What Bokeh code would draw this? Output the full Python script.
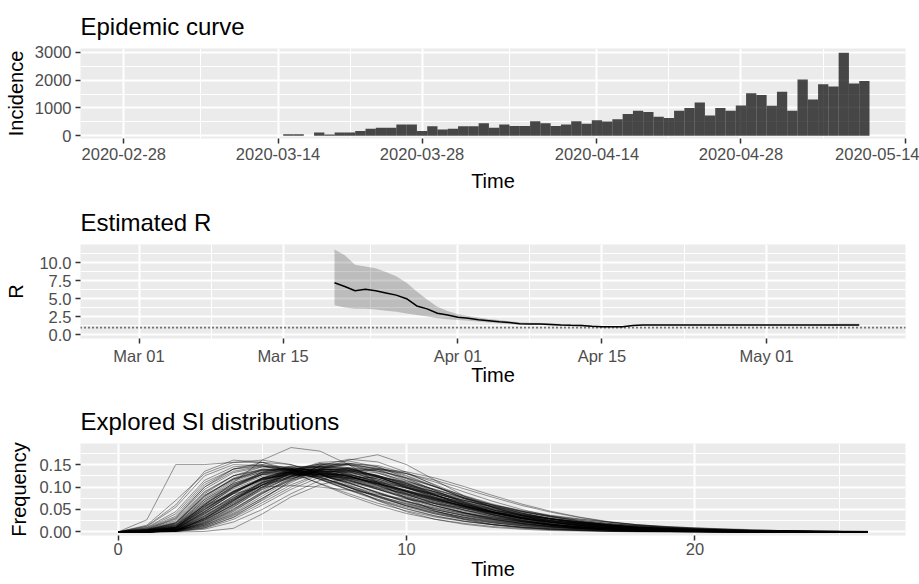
import datetime as dt
from bokeh.plotting import figure
from bokeh.layouts import column
from bokeh.models import (Range1d, FixedTicker, DatetimeTickFormatter,
                          NumeralTickFormatter, Span, ColumnDataSource)
from bokeh.embed import file_html
from bokeh.resources import INLINE

# ---------------- data ----------------
inc_start = dt.datetime(2020, 3, 15)
incidence = [50, 50, 0, 115, 40, 115, 115, 170, 255, 290, 290, 400, 400, 170, 340,
             220, 255, 340, 340, 445, 290, 400, 350, 350, 520, 445, 350, 400, 520,
             430, 555, 510, 590, 780, 900, 850, 685, 635, 900, 995, 1200, 730, 995, 900,
             1090, 1530, 1470, 1080, 1580, 900, 2020, 1300, 1850, 1770, 2990, 1880, 1970]
inc_dates = [inc_start + dt.timedelta(days=i) for i in range(len(incidence))]

inc_tick_dates = [dt.datetime(2020, 2, 28), dt.datetime(2020, 3, 14), dt.datetime(2020, 3, 28),
                  dt.datetime(2020, 4, 14), dt.datetime(2020, 4, 28), dt.datetime(2020, 5, 14)]
inc_minor_dates = [dt.datetime(2020, 3, 6, 12), dt.datetime(2020, 3, 21), dt.datetime(2020, 4, 5, 12),
                   dt.datetime(2020, 4, 21), dt.datetime(2020, 5, 6)]

r_start = dt.datetime(2020, 3, 20)
r_mean = [7.2, 6.7, 6.1, 6.3, 6.1, 5.8, 5.5, 5.0, 4.0, 3.6, 3.0, 2.75,
          2.45, 2.3, 2.1, 1.95, 1.8, 1.7, 1.55, 1.5, 1.5, 1.45, 1.35, 1.32, 1.3, 1.2,
          1.14, 1.14, 1.14, 1.3,
          1.37, 1.37, 1.37, 1.37, 1.37, 1.37, 1.37, 1.37, 1.37, 1.37, 1.37,
          1.37, 1.37, 1.37, 1.37, 1.37, 1.37, 1.37, 1.37, 1.38, 1.38, 1.38]
r_low = [4.1, 3.8, 3.6, 3.6, 3.5, 3.35, 3.2, 2.95, 2.75, 2.55, 2.3, 2.15,
         2.05, 1.95, 1.85, 1.72, 1.6, 1.52, 1.4, 1.36, 1.35, 1.3, 1.22, 1.2, 1.18, 1.1,
         1.05, 1.06, 1.06, 1.22,
         1.3, 1.3, 1.3, 1.3, 1.3, 1.3, 1.3, 1.3, 1.3, 1.3, 1.3,
         1.3, 1.3, 1.3, 1.3, 1.3, 1.3, 1.3, 1.28, 1.22, 1.22, 1.22]
r_up = [11.8, 11.0, 9.7, 9.45, 9.2, 8.7, 8.1, 7.2, 6.0, 4.9, 3.9, 3.3,
        2.85, 2.6, 2.4, 2.2, 2.05, 1.9, 1.75, 1.68, 1.66, 1.6, 1.5, 1.45, 1.42, 1.3,
        1.23, 1.22, 1.22, 1.38,
        1.45, 1.45, 1.45, 1.45, 1.45, 1.45, 1.45, 1.45, 1.45, 1.45, 1.45,
        1.45, 1.45, 1.45, 1.45, 1.45, 1.45, 1.45, 1.48, 1.55, 1.55, 1.55]
r_dates = [r_start + dt.timedelta(days=i) for i in range(len(r_mean))]
r_threshold = 1.0

r_tick_dates = [dt.datetime(2020, 3, 1), dt.datetime(2020, 3, 15), dt.datetime(2020, 4, 1),
                dt.datetime(2020, 4, 15), dt.datetime(2020, 5, 1)]
r_minor_dates = [dt.datetime(2020, 3, 8), dt.datetime(2020, 3, 23, 12), dt.datetime(2020, 4, 8),
                 dt.datetime(2020, 4, 23), dt.datetime(2020, 5, 8)]

si_time = list(range(27))
si_curves = [
    [0, .002, .01, .06, .10, .13, .145, .145, .13, .11, .085, .062, .043, .029, .019, .012, .008, .005, .003, .002, .001, .001, 0, 0, 0, 0, 0],
    [0, .001, .006, .045, .085, .12, .14, .145, .135, .115, .09, .068, .049, .034, .023, .015, .01, .006, .004, .002, .001, .001, 0, 0, 0, 0, 0],
    [0, .004, .02, .085, .125, .145, .145, .13, .11, .087, .065, .046, .032, .021, .014, .009, .006, .004, .002, .001, .001, 0, 0, 0, 0, 0, 0],
    [0, 0, .004, .032, .07, .105, .13, .14, .137, .122, .102, .08, .06, .043, .03, .02, .013, .009, .006, .004, .002, .001, .001, 0, 0, 0, 0],
    [0, .003, .012, .065, .105, .13, .14, .137, .124, .106, .086, .066, .049, .035, .024, .016, .011, .007, .004, .003, .002, .001, .001, 0, 0, 0, 0],
    [0, 0, .003, .025, .06, .1, .13, .15, .15, .135, .11, .083, .058, .038, .024, .015, .009, .005, .003, .002, .001, 0, 0, 0, 0, 0, 0],
    [0, .006, .03, .1, .14, .155, .15, .13, .105, .08, .058, .04, .027, .017, .011, .007, .004, .002, .001, .001, 0, 0, 0, 0, 0, 0, 0],
    [0, .001, .008, .05, .09, .12, .135, .135, .125, .108, .09, .072, .056, .042, .031, .022, .016, .011, .008, .005, .003, .002, .001, .001, .001, 0, 0],
    [0, 0, .003, .018, .05, .09, .125, .145, .15, .14, .118, .092, .067, .045, .029, .018, .011, .006, .003, .002, .001, 0, 0, 0, 0, 0, 0],
    [0, .002, .01, .055, .092, .118, .128, .127, .118, .104, .088, .072, .057, .044, .033, .025, .018, .013, .009, .006, .004, .003, .002, .001, .001, .001, 0],
    [0, .01, .045, .115, .145, .15, .138, .117, .093, .07, .051, .035, .024, .016, .01, .006, .004, .002, .001, .001, 0, 0, 0, 0, 0, 0, 0],
    [0, 0, .005, .04, .08, .115, .135, .14, .133, .118, .098, .078, .059, .043, .03, .021, .014, .009, .006, .004, .002, .001, .001, 0, 0, 0, 0],
    [0, .001, .007, .048, .088, .118, .132, .133, .124, .109, .091, .073, .057, .043, .031, .022, .015, .01, .007, .004, .003, .002, .001, .001, 0, 0, 0],
    [0, 0, .002, .012, .038, .075, .113, .14, .152, .148, .13, .105, .079, .055, .036, .022, .013, .007, .004, .002, .001, 0, 0, 0, 0, 0, 0],
    [0, .003, .014, .072, .112, .135, .14, .132, .116, .096, .076, .058, .042, .03, .021, .014, .009, .006, .004, .002, .001, .001, 0, 0, 0, 0, 0],
    [0, .001, .005, .038, .075, .108, .127, .132, .127, .114, .098, .081, .065, .05, .038, .028, .02, .014, .01, .007, .004, .003, .002, .001, .001, 0, 0],
    [0, 0, .003, .03, .07, .11, .138, .148, .142, .124, .1, .076, .055, .038, .025, .016, .01, .006, .004, .002, .001, .001, 0, 0, 0, 0, 0],
    [0, .005, .022, .088, .125, .14, .137, .122, .102, .081, .062, .046, .033, .023, .016, .011, .007, .005, .003, .002, .001, .001, 0, 0, 0, 0, 0],
    [0, 0, .002, .022, .058, .1, .135, .155, .158, .145, .12, .092, .065, .043, .027, .016, .009, .005, .003, .001, .001, 0, 0, 0, 0, 0, 0],
    [0, .002, .009, .052, .09, .117, .13, .13, .121, .107, .09, .073, .058, .044, .033, .024, .017, .012, .008, .005, .003, .002, .001, .001, .001, 0, 0],
    [0, 0, .004, .035, .075, .113, .138, .147, .14, .123, .1, .077, .056, .039, .026, .017, .011, .007, .004, .002, .001, .001, 0, 0, 0, 0, 0],
    [0, .004, .018, .078, .118, .138, .14, .128, .109, .088, .068, .05, .036, .025, .017, .011, .007, .004, .003, .002, .001, 0, 0, 0, 0, 0, 0],
    [0, .001, .006, .042, .08, .11, .126, .13, .124, .112, .097, .081, .066, .052, .04, .03, .022, .016, .011, .008, .005, .003, .002, .001, .001, .001, 0],
    [0, 0, .003, .017, .047, .085, .118, .138, .143, .136, .12, .1, .079, .059, .042, .029, .019, .012, .007, .004, .002, .001, .001, 0, 0, 0, 0],
    [0, .002, .011, .062, .102, .128, .137, .133, .12, .102, .083, .064, .048, .035, .025, .017, .011, .007, .005, .003, .002, .001, .001, 0, 0, 0, 0],
    [0, .027, .15, .15, .155, .16, .15, .13, .1, .07, .045, .028, .017, .01, .006, .003, .002, .001, 0, 0, 0, 0, 0, 0, 0, 0, 0],
    [0, .002, .01, .06, .11, .16, .188, .18, .15, .11, .075, .047, .028, .016, .009, .005, .003, .001, .001, 0, 0, 0, 0, 0, 0, 0, 0],
    [0, 0, .003, .015, .04, .075, .11, .14, .16, .172, .15, .115, .08, .06, .045, .034, .024, .016, .01, .006, .004, .002, .001, .001, 0, 0, 0],
    [0, 0, 0, .001, .008, .04, .078, .105, .12, .122, .112, .095, .076, .058, .042, .029, .019, .012, .008, .005, .003, .002, .001, .001, 0, 0, 0],
    [0, .015, .07, .13, .155, .155, .14, .118, .095, .072, .052, .036, .024, .016, .01, .006, .004, .002, .001, .001, 0, 0, 0, 0, 0, 0, 0],
    [0, .003, .015, .058, .085, .1, .103, .1, .093, .083, .073, .063, .053, .044, .036, .029, .023, .018, .014, .011, .008, .006, .004, .003, .002, .001, .001],
    [0, .001, .005, .035, .072, .105, .124, .128, .121, .108, .093, .077, .062, .048, .037, .028, .02, .015, .01, .007, .005, .003, .002, .001, .001, 0, 0],
    [0, 0, .003, .028, .068, .108, .135, .145, .14, .125, .104, .082, .062, .045, .031, .021, .014, .009, .005, .003, .002, .001, .001, 0, 0, 0, 0],
    [0, .003, .016, .075, .115, .138, .143, .134, .116, .095, .074, .055, .04, .028, .019, .013, .008, .005, .003, .002, .001, .001, 0, 0, 0, 0, 0],
    [0, 0, .004, .033, .073, .11, .134, .142, .137, .122, .102, .081, .061, .045, .032, .022, .015, .01, .006, .004, .002, .001, .001, 0, 0, 0, 0],
    [0, .002, .008, .05, .09, .12, .135, .137, .128, .112, .093, .074, .057, .042, .03, .021, .014, .01, .006, .004, .003, .002, .001, .001, 0, 0, 0],
    [0, .008, .035, .105, .14, .15, .142, .123, .1, .078, .058, .042, .029, .02, .013, .008, .005, .003, .002, .001, .001, 0, 0, 0, 0, 0, 0],
    [0, 0, .002, .014, .042, .08, .117, .142, .15, .142, .124, .1, .076, .055, .038, .025, .016, .01, .006, .004, .002, .001, .001, 0, 0, 0, 0],
    [0, .001, .007, .045, .085, .116, .131, .132, .123, .108, .091, .074, .058, .045, .034, .025, .018, .013, .009, .006, .004, .003, .002, .001, .001, 0, 0],
    [0, .004, .02, .08, .118, .137, .138, .127, .109, .089, .069, .052, .038, .027, .019, .013, .009, .006, .004, .002, .001, .001, 0, 0, 0, 0, 0],
    [0, 0, .002, .02, .052, .088, .115, .128, .127, .118, .104, .089, .074, .06, .048, .037, .029, .022, .016, .012, .009, .006, .004, .003, .002, .001, .001],
    [0, .005, .025, .09, .125, .138, .133, .118, .099, .08, .063, .049, .037, .028, .021, .015, .011, .008, .006, .004, .003, .002, .001, .001, .001, 0, 0],
    [0, 0, .001, .01, .032, .065, .1, .128, .142, .142, .13, .111, .089, .068, .05, .035, .024, .016, .01, .006, .004, .002, .001, .001, 0, 0, 0],
    [0, .002, .01, .058, .096, .12, .128, .124, .113, .099, .085, .071, .058, .047, .037, .029, .022, .017, .013, .009, .007, .005, .003, .002, .002, .001, .001],
    [0, .012, .055, .125, .15, .148, .131, .108, .085, .064, .047, .033, .023, .016, .011, .007, .005, .003, .002, .001, .001, 0, 0, 0, 0, 0, 0],
    [0, 0, .003, .03, .068, .105, .13, .14, .137, .125, .108, .089, .07, .054, .04, .029, .021, .015, .01, .007, .005, .003, .002, .001, .001, 0, 0],
    [0, .001, .006, .04, .078, .11, .13, .136, .131, .118, .1, .082, .064, .049, .036, .026, .018, .013, .009, .006, .004, .002, .002, .001, .001, 0, 0],
    [0, .003, .014, .068, .105, .127, .133, .127, .114, .098, .082, .066, .052, .041, .031, .024, .018, .013, .01, .007, .005, .004, .003, .002, .001, .001, .001],
    [0, 0, .002, .015, .045, .085, .122, .146, .153, .145, .126, .101, .076, .054, .036, .023, .014, .009, .005, .003, .002, .001, 0, 0, 0, 0, 0],
    [0, .007, .032, .1, .135, .147, .14, .122, .1, .079, .06, .045, .033, .024, .017, .012, .008, .006, .004, .003, .002, .001, .001, 0, 0, 0, 0],
    [0, .001, .004, .03, .065, .1, .125, .136, .135, .125, .11, .093, .076, .06, .046, .035, .026, .019, .013, .009, .006, .004, .003, .002, .001, .001, 0],
    [0, 0, .002, .024, .062, .104, .137, .152, .149, .132, .108, .082, .059, .04, .026, .016, .01, .006, .003, .002, .001, 0, 0, 0, 0, 0, 0],
    [0, .002, .009, .056, .098, .128, .141, .138, .124, .104, .083, .063, .046, .033, .023, .015, .01, .007, .004, .003, .002, .001, .001, 0, 0, 0, 0],
    [0, 0, .001, .008, .028, .06, .095, .122, .137, .139, .13, .115, .096, .077, .059, .044, .032, .022, .015, .01, .007, .004, .003, .002, .001, .001, 0],
    [0, .004, .016, .072, .108, .128, .132, .125, .111, .095, .078, .063, .049, .038, .029, .022, .016, .012, .009, .006, .004, .003, .002, .002, .001, .001, 0],
    [0, .001, .008, .055, .1, .133, .147, .143, .126, .104, .08, .059, .042, .028, .019, .012, .008, .005, .003, .002, .001, .001, 0, 0, 0, 0, 0],
    [0, 0, .003, .026, .062, .098, .124, .135, .133, .121, .104, .086, .068, .052, .039, .029, .021, .015, .011, .008, .005, .004, .003, .002, .001, .001, 0],
    [0, .009, .04, .11, .14, .147, .137, .117, .094, .073, .055, .04, .029, .02, .014, .01, .007, .005, .003, .002, .001, .001, 0, 0, 0, 0, 0],
    [0, .002, .007, .042, .076, .104, .12, .125, .121, .111, .098, .084, .07, .057, .046, .036, .028, .022, .016, .012, .009, .007, .005, .003, .002, .002, .001],
    [0, 0, .003, .02, .055, .097, .133, .152, .153, .139, .115, .089, .064, .044, .029, .018, .011, .006, .004, .002, .001, .001, 0, 0, 0, 0, 0],
    [0, .003, .012, .063, .1, .124, .132, .128, .116, .101, .085, .069, .055, .043, .033, .025, .019, .014, .01, .007, .005, .004, .003, .002, .001, .001, .001],
    [0, .001, .004, .027, .06, .095, .122, .135, .134, .123, .107, .089, .071, .055, .042, .031, .022, .016, .011, .008, .005, .003, .002, .002, .001, .001, 0],
    [0, .006, .028, .095, .132, .145, .139, .121, .099, .077, .058, .043, .031, .022, .015, .01, .007, .005, .003, .002, .001, .001, 0, 0, 0, 0, 0],
    [0, 0, .002, .012, .036, .07, .105, .13, .14, .136, .121, .101, .081, .062, .046, .033, .023, .016, .011, .007, .005, .003, .002, .001, .001, 0, 0],
    [0, .002, .01, .06, .103, .133, .143, .136, .119, .098, .077, .058, .043, .031, .022, .015, .01, .007, .005, .003, .002, .001, .001, 0, 0, 0, 0],
    [0, 0, .003, .03, .07, .112, .141, .151, .143, .123, .098, .074, .053, .037, .025, .016, .01, .007, .004, .002, .001, .001, 0, 0, 0, 0, 0],
    [0, .001, .005, .036, .072, .104, .124, .13, .126, .115, .1, .085, .07, .056, .044, .034, .026, .019, .014, .01, .007, .005, .003, .002, .002, .001, .001],
    [0, .004, .018, .08, .12, .14, .14, .127, .108, .087, .067, .05, .036, .026, .018, .012, .008, .005, .003, .002, .001, .001, 0, 0, 0, 0, 0],
    [0, 0, .001, .009, .033, .072, .115, .148, .162, .156, .133, .103, .074, .049, .031, .018, .01, .006, .003, .002, .001, 0, 0, 0, 0, 0, 0],
    [0, .002, .01, .053, .09, .116, .128, .128, .119, .106, .091, .076, .062, .049, .038, .029, .022, .016, .012, .009, .006, .004, .003, .002, .001, .001, .001],
    [0, .001, .006, .044, .086, .12, .138, .14, .129, .111, .09, .07, .052, .038, .027, .019, .013, .009, .006, .004, .002, .002, .001, .001, 0, 0, 0],
    [0, 0, .002, .022, .056, .094, .124, .139, .138, .126, .107, .087, .067, .05, .036, .026, .018, .012, .008, .005, .003, .002, .001, .001, 0, 0, 0],
    [0, .005, .02, .082, .117, .133, .132, .12, .103, .085, .068, .053, .041, .031, .023, .017, .012, .009, .006, .004, .003, .002, .001, .001, .001, 0, 0],
    [0, 0, .003, .018, .049, .087, .119, .137, .14, .131, .114, .094, .074, .056, .041, .03, .021, .015, .01, .007, .004, .003, .002, .001, .001, 0, 0],
    [0, .002, .009, .05, .088, .117, .131, .132, .123, .109, .092, .075, .06, .046, .035, .026, .019, .014, .01, .007, .005, .003, .002, .001, .001, .001, 0],
    [0, .013, .06, .135, .16, .155, .134, .107, .081, .059, .041, .028, .019, .012, .008, .005, .003, .002, .001, .001, 0, 0, 0, 0, 0, 0, 0],
    [0, 0, .001, .006, .022, .05, .085, .115, .134, .14, .134, .12, .101, .081, .062, .046, .033, .023, .016, .011, .007, .004, .003, .002, .001, .001, 0],
    [0, .001, .007, .046, .087, .119, .134, .135, .124, .107, .088, .07, .054, .041, .03, .022, .016, .011, .008, .005, .004, .002, .002, .001, .001, 0, 0],
    [0, .003, .013, .068, .108, .132, .138, .13, .114, .095, .075, .058, .043, .032, .023, .016, .011, .008, .005, .003, .002, .001, .001, 0, 0, 0, 0],
    [0, 0, .003, .027, .065, .105, .133, .145, .141, .126, .105, .083, .062, .045, .032, .022, .015, .01, .006, .004, .002, .001, .001, 0, 0, 0, 0],
]
si_ticks = [0, 10, 20]
si_minor = [5, 15, 25]

EPOCH = dt.datetime(1970, 1, 1)
DAY_MS = 86400000.0


def ms(d):
    return (d - EPOCH).total_seconds() * 1000.0


FONT = "Liberation Sans"


def style(p, title, label_standoff=4, xtitle_standoff=4, ytitle_standoff=4):
    p.background_fill_color = "#EBEBEB"
    p.border_fill_color = "white"
    p.outline_line_color = None
    p.title.text = title
    p.title.text_font = FONT
    p.title.text_font_size = "24px"
    p.title.text_font_style = "normal"
    p.title.text_color = "black"
    p.title.standoff = 17
    for ax in (p.xaxis[0], p.yaxis[0]):
        ax.axis_line_color = None
        ax.major_tick_line_color = "#333333"
        ax.major_tick_line_width = 1.5
        ax.major_tick_out = 5
        ax.major_tick_in = 0
        ax.minor_tick_line_color = None
        ax.major_label_text_color = "#4D4D4D"
        ax.major_label_text_font = FONT
        ax.major_label_text_font_size = "16.5px"
        ax.axis_label_text_font = FONT
        ax.axis_label_text_font_size = "20px"
        ax.axis_label_text_font_style = "normal"
        ax.axis_label_text_color = "black"
        ax.major_label_standoff = 4
    p.xaxis[0].major_label_standoff = label_standoff
    p.xaxis[0].axis_label_standoff = xtitle_standoff
    p.yaxis[0].axis_label_standoff = ytitle_standoff
    for g in (p.xgrid[0], p.ygrid[0]):
        g.grid_line_color = "white"
        g.grid_line_width = 2
        g.minor_grid_line_color = "white"
        g.minor_grid_line_width = 1


# ---------- panel 1: epidemic curve ----------
p1 = figure(width=919, height=195, output_backend="svg", toolbar_location=None,
            x_axis_type="datetime",
            x_range=Range1d(ms(dt.datetime(2020, 2, 23, 19)), ms(dt.datetime(2020, 5, 14))),
            y_range=Range1d(-100, 3140),
            min_border_left=80, min_border_right=14, min_border_top=48, min_border_bottom=57)
p1.vbar(x=inc_dates, top=incidence, bottom=0, width=DAY_MS,
        fill_color="black", fill_alpha=0.7, line_color=None)
style(p1, "Epidemic curve", xtitle_standoff=7, ytitle_standoff=5)
p1.xaxis.ticker = FixedTicker(ticks=[ms(d) for d in inc_tick_dates],
                              minor_ticks=[ms(d) for d in inc_minor_dates])
fmt1 = "%Y-%m-%d"
p1.xaxis.formatter = DatetimeTickFormatter(days=fmt1, months=fmt1, years=fmt1, hours=fmt1,
                                           hourmin=fmt1)
p1.yaxis.ticker = FixedTicker(ticks=[0, 1000, 2000, 3000], minor_ticks=[500, 1500, 2500])
p1.xaxis.axis_label = "Time"
p1.yaxis.axis_label = "Incidence"

# ---------- panel 2: estimated R ----------
p2 = figure(width=919, height=200, output_backend="svg", toolbar_location=None,
            x_axis_type="datetime",
            x_range=Range1d(ms(dt.datetime(2020, 2, 24, 7, 30)), ms(dt.datetime(2020, 5, 14, 12))),
            y_range=Range1d(-0.5, 12.5),
            min_border_left=75, min_border_right=13, min_border_top=49, min_border_bottom=57)
src_r = ColumnDataSource(dict(x=r_dates, m=r_mean, lo=r_low, hi=r_up))
p2.varea(x="x", y1="lo", y2="hi", source=src_r, fill_color="black", fill_alpha=0.2)
p2.line(x="x", y="m", source=src_r, line_color="black", line_width=1.5)
p2.add_layout(Span(location=r_threshold, dimension="width", line_color="black",
                   line_dash="1 3", line_width=1.6))
style(p2, "Estimated R", label_standoff=3, xtitle_standoff=-4, ytitle_standoff=9)
p2.xaxis.ticker = FixedTicker(ticks=[ms(d) for d in r_tick_dates],
                              minor_ticks=[ms(d) for d in r_minor_dates])
fmt2 = "%b %d"
p2.xaxis.formatter = DatetimeTickFormatter(days=fmt2, months=fmt2, years=fmt2, hours=fmt2,
                                           hourmin=fmt2)
p2.yaxis.ticker = FixedTicker(ticks=[0, 2.5, 5, 7.5, 10],
                              minor_ticks=[1.25, 3.75, 6.25, 8.75, 11.25])
p2.yaxis.formatter = NumeralTickFormatter(format="0.0")
p2.xaxis.axis_label = "Time"
p2.yaxis.axis_label = "R"

# ---------- panel 3: SI distributions ----------
p3 = figure(width=919, height=189, output_backend="svg", toolbar_location=None,
            x_range=Range1d(-1.3, 27.3), y_range=Range1d(-0.008, 0.197),
            min_border_left=75, min_border_right=13, min_border_top=48, min_border_bottom=49)
src_si = ColumnDataSource(dict(xs=[si_time for _ in si_curves], ys=si_curves))
p3.multi_line(xs="xs", ys="ys", source=src_si, line_color="black", line_alpha=0.4,
              line_width=1.0)
style(p3, "Explored SI distributions", label_standoff=2, xtitle_standoff=0, ytitle_standoff=6)
p3.xaxis.ticker = FixedTicker(ticks=si_ticks, minor_ticks=si_minor)
p3.yaxis.ticker = FixedTicker(ticks=[0, 0.05, 0.10, 0.15],
                              minor_ticks=[0.025, 0.075, 0.125, 0.175])
p3.yaxis.formatter = NumeralTickFormatter(format="0.00")
p3.xaxis.axis_label = "Time"
p3.yaxis.axis_label = "Frequency"

layout = column(p1, p2, p3, spacing=0)
open("out.html", "w").write(file_html(layout, INLINE))
